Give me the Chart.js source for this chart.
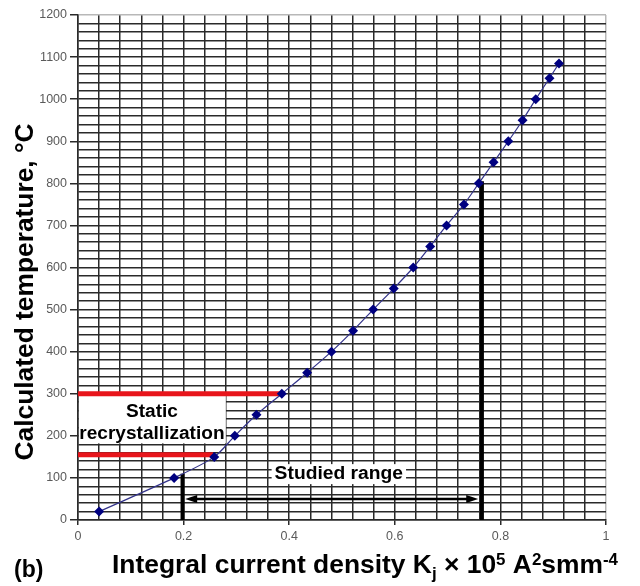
<!DOCTYPE html>
<html>
<head>
<meta charset="utf-8">
<script src="https://cdn.jsdelivr.net/npm/chart.js@4.4.1/dist/chart.umd.min.js"></script>
<style>
  html, body { margin: 0; padding: 0; background: #fff; }
  #wrap { position: relative; width: 640px; height: 586px; }
</style>
</head>
<body>
<div id="wrap"><canvas id="tempChart"></canvas></div>
<script>
// values
var kjValues = [0.040, 0.182, 0.258, 0.297, 0.338, 0.386, 0.434, 0.480, 0.521, 0.559, 0.598,
                0.635, 0.667, 0.698, 0.731, 0.759, 0.787, 0.815, 0.842, 0.867, 0.893, 0.911];
var tempValues = [20, 100, 150, 200, 250, 300, 350, 400, 450, 500, 550,
                  600, 650, 700, 750, 800, 850, 900, 950, 1000, 1050, 1085];

var xTickLabels = [0, 0.2, 0.4, 0.6, 0.8, 1];
var yTickLabels = [0, 100, 200, 300, 400, 500, 600, 700, 800, 900, 1000, 1100, 1200];

// marked limits
var recrystLevels = [300, 155];
var recrystEnds = [0.383, 0.256];
var rangeBounds = [0.198, 0.765];
var rangeTops = [110, 805];
var arrowLevel = 50;
var arrowEnds = [0.203, 0.758];

var FONT = "'Liberation Sans', Arial, sans-serif";

function isLabel(list, v) {
    for (var i = 0; i < list.length; i++) {
        if (Math.abs(list[i] - v) < 1e-6) return true;
    }
    return false;
}

var curve = [];
for (var i = 0; i < kjValues.length; i++) curve.push({x: kjValues[i], y: tempValues[i]});

var datasets = [{
    data: curve,
    showLine: true,
    borderColor: '#33338a',
    borderWidth: 1.2,
    tension: 0.3,
    pointStyle: 'rectRot',
    pointRadius: 5,
    pointBackgroundColor: '#000080',
    pointBorderColor: '#000080',
    pointBorderWidth: 0
}];
recrystLevels.forEach(function(lvl, i) {
    datasets.push({
        data: [{x: 0, y: lvl}, {x: recrystEnds[i], y: lvl}],
        showLine: true, borderColor: '#e8151b', borderWidth: 5, pointRadius: 0
    });
});
rangeBounds.forEach(function(b, i) {
    datasets.push({
        data: [{x: b, y: 0}, {x: b, y: rangeTops[i]}],
        showLine: true, borderColor: '#000', borderWidth: 4, pointRadius: 0
    });
});

function scaledText(ctx, text, x, y, size, sx, align) {
    ctx.save();
    ctx.font = 'bold ' + size + 'px ' + FONT;
    ctx.textAlign = align || 'center';
    ctx.textBaseline = 'middle';
    ctx.translate(x, y);
    ctx.scale(sx, 1);
    ctx.fillText(text, 0, 0);
    ctx.restore();
}

var annotations = {
    id: 'annotations',
    beforeDatasetsDraw: function(chart) {
        var ctx = chart.ctx, xs = chart.scales.x, ys = chart.scales.y;
        ctx.save();
        ctx.fillStyle = '#fff';
        // box behind "Static recrystallization"
        var l = xs.getPixelForValue(0) + 1, r = xs.getPixelForValue(0.28);
        var t = ys.getPixelForValue(300), b = ys.getPixelForValue(182);
        ctx.fillRect(l, t, r - l, b - t);
        // box behind "Studied range"
        ctx.font = 'bold 18px ' + FONT;
        var w = ctx.measureText('Studied range').width * 1.07 + 6;
        var cx = xs.getPixelForValue(0.494), cy = ys.getPixelForValue(109);
        ctx.fillRect(cx - w / 2, cy - 10, w, 20);
        ctx.restore();
    },
    afterDatasetsDraw: function(chart) {
        var ctx = chart.ctx, xs = chart.scales.x, ys = chart.scales.y;
        ctx.save();
        ctx.fillStyle = '#000';
        ctx.strokeStyle = '#000';

        // double arrow for studied range
        var ay = ys.getPixelForValue(arrowLevel);
        var a0 = xs.getPixelForValue(arrowEnds[0]), a1 = xs.getPixelForValue(arrowEnds[1]);
        ctx.lineWidth = 2.5;
        ctx.beginPath();
        ctx.moveTo(a0 + 8, ay);
        ctx.lineTo(a1 - 8, ay);
        ctx.stroke();
        ctx.beginPath();
        ctx.moveTo(a0, ay); ctx.lineTo(a0 + 12, ay - 4); ctx.lineTo(a0 + 12, ay + 4); ctx.closePath();
        ctx.moveTo(a1, ay); ctx.lineTo(a1 - 12, ay - 4); ctx.lineTo(a1 - 12, ay + 4); ctx.closePath();
        ctx.fill();

        // labels
        scaledText(ctx, 'Static', xs.getPixelForValue(0.14), ys.getPixelForValue(257), 18, 1.06);
        scaledText(ctx, 'recrystallization', xs.getPixelForValue(0.14), ys.getPixelForValue(204), 18, 1.06);
        scaledText(ctx, 'Studied range', xs.getPixelForValue(0.494), ys.getPixelForValue(109), 18, 1.07);

        // y axis title
        ctx.save();
        ctx.font = 'bold 25px ' + FONT;
        ctx.textAlign = 'center';
        ctx.textBaseline = 'alphabetic';
        var yt = 'Calculated temperature, \u00B0C';
        var sy = 337 / ctx.measureText(yt).width;
        ctx.translate(33, 292);
        ctx.rotate(-Math.PI / 2);
        ctx.scale(sy, 1);
        ctx.fillText(yt, 0, 0);
        ctx.restore();

        // x axis title with sub/superscripts
        var parts = [
            {t: 'Integral current density K', s: 25, dy: 0},
            {t: 'j', s: 16, dy: 6},
            {t: ' \u00D7 10', s: 25, dy: 0},
            {t: '5', s: 16, dy: -8},
            {t: ' A', s: 25, dy: 0},
            {t: '2', s: 16, dy: -8},
            {t: 'smm', s: 25, dy: 0},
            {t: '-4', s: 16, dy: -8}
        ];
        ctx.save();
        ctx.textAlign = 'left';
        ctx.textBaseline = 'alphabetic';
        var total = 0;
        parts.forEach(function(p) {
            ctx.font = 'bold ' + p.s + 'px ' + FONT;
            p.w = ctx.measureText(p.t).width;
            total += p.w;
        });
        ctx.translate(112, 573);
        ctx.scale(506 / total, 1);
        var px = 0;
        parts.forEach(function(p) {
            ctx.font = 'bold ' + p.s + 'px ' + FONT;
            ctx.fillText(p.t, px, p.dy);
            px += p.w;
        });
        ctx.restore();

        // panel letter
        ctx.font = 'bold 23px ' + FONT;
        ctx.textAlign = 'left';
        ctx.textBaseline = 'alphabetic';
        ctx.fillText('(b)', 14, 577);
        ctx.restore();
    }
};

function gridColor(max) {
    return function(c) {
        return (c.tick && Math.abs(c.tick.value - max) < 1e-6) ? '#b8b8b8' : '#2a2a2a';
    };
}

new Chart(document.getElementById('tempChart'), {
    type: 'scatter',
    data: { datasets: datasets },
    options: {
        responsive: true,
        maintainAspectRatio: false,
        animation: false,
        events: [],
        layout: { padding: { top: 15, right: 34, left: 0, bottom: 0 } },
        plugins: { legend: { display: false }, tooltip: { enabled: false } },
        scales: {
            x: {
                type: 'linear', min: 0, max: 1,
                afterFit: function(scale) { scale.height = 66; },
                border: { color: '#2a2a2a', width: 1.5 },
                grid: {
                    color: gridColor(1), lineWidth: 1.5, tickLength: 5,
                    tickColor: function(c) { return isLabel(xTickLabels, c.tick.value) ? '#2a2a2a' : 'rgba(0,0,0,0)'; }
                },
                ticks: {
                    stepSize: 0.04, autoSkip: false, maxRotation: 0, padding: 4,
                    color: '#5a5a5a', font: { family: FONT, size: 12.5 },
                    callback: function(v) { return isLabel(xTickLabels, v) ? String(Math.round(v * 10) / 10) : ''; }
                }
            },
            y: {
                type: 'linear', min: 0, max: 1200,
                afterFit: function(scale) { scale.width = 78; },
                border: { color: '#2a2a2a', width: 1.5 },
                grid: {
                    color: gridColor(1200), lineWidth: 1.5, tickLength: 8,
                    tickColor: function(c) { return isLabel(yTickLabels, c.tick.value) ? '#2a2a2a' : 'rgba(0,0,0,0)'; }
                },
                ticks: {
                    stepSize: 20, autoSkip: false, padding: 3,
                    color: '#5a5a5a', font: { family: FONT, size: 12.5 },
                    callback: function(v) { return isLabel(yTickLabels, v) ? String(v) : ''; }
                }
            }
        }
    },
    plugins: [annotations]
});
</script>
</body>
</html>
